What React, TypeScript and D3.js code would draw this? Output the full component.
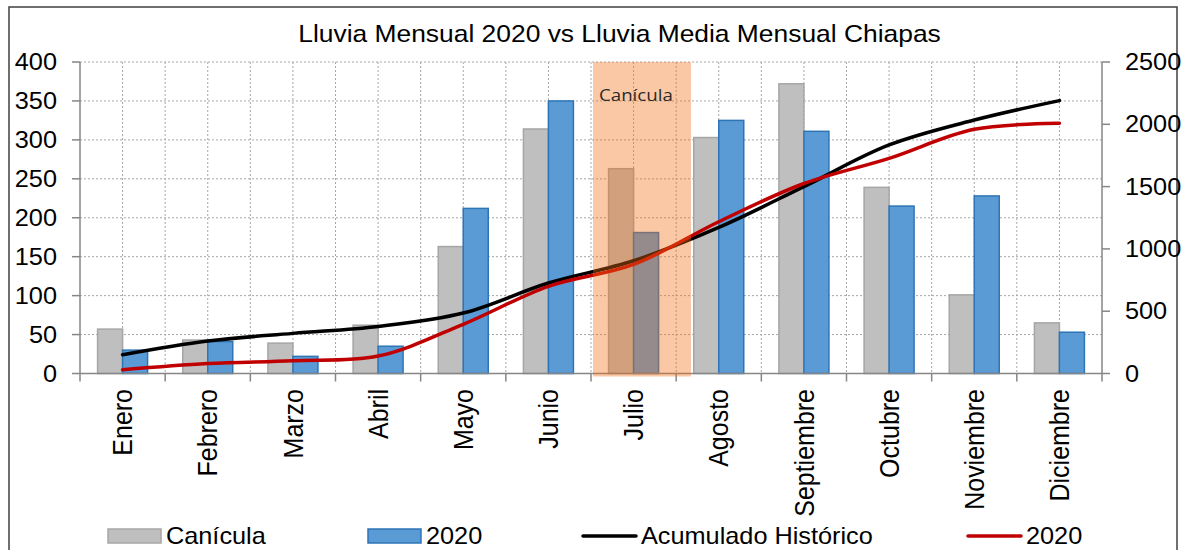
import * as d3 from "d3";

// datos
const meses = ["Enero", "Febrero", "Marzo", "Abril", "Mayo", "Junio", "Julio", "Agosto", "Septiembre", "Octubre", "Noviembre", "Diciembre"];
const canicula = [57, 43, 39, 62, 163, 314, 263, 303, 372, 239, 101, 65];
const lluvia2020 = [30, 41, 22, 35, 212, 350, 181, 325, 311, 215, 228, 53];
const acumHistorico = [150, 260, 322, 378, 485, 726, 905, 1172, 1500, 1834, 2034, 2190];
const acum2020 = [30, 80, 103, 140, 395, 700, 875, 1218, 1525, 1727, 1960, 2008];
const ticksIzq = [0, 50, 100, 150, 200, 250, 300, 350, 400];
const ticksDer = [0, 500, 1000, 1500, 2000, 2500];
const mesCanicula = "Julio";

const FONT = "'Liberation Sans', Arial, sans-serif";
const SX = 1.1; // el original está estirado en horizontal

const App = () => {
  const left = 80, right = 1102, top = 62, bottom = 373.5;

  const x = d3.scaleBand().domain(meses).range([left, right]);
  const bw = x.bandwidth();
  const xs = d3.scaleBand().domain(["hist", "2020"]).range([0, bw]).paddingOuter(0.7035);
  const yL = d3.scaleLinear().domain([0, 400]).range([bottom, top]);
  const yR = d3.scaleLinear().domain([0, 2500]).range([bottom, top]);
  const cx = (m: string) => (x(m) as number) + bw / 2;

  const line = d3.line<number>()
    .x((_, i) => cx(meses[i]))
    .y(d => yR(d))
    .curve(d3.curveCatmullRom.alpha(0.5));

  // gridlines verticales cada media categoría
  const vGrid = d3.range(1, meses.length * 2).map(i => left + (bw / 2) * i);

  const cStart = x(mesCanicula) as number;

  const legend = [
    { x: 108, label: "Canícula", type: "bar", fill: "#BFBFBF", stroke: "#A6A6A6" },
    { x: 368, label: "2020", type: "bar", fill: "#5B9BD5", stroke: "#2E75B6" },
    { x: 583, label: "Acumulado Histórico", type: "line", stroke: "#000000" },
    { x: 968, label: "2020", type: "line", stroke: "#C00000" },
  ];

  return (
    <svg width={1185} height={550} style={{ position: "absolute", left: 0, top: 0, background: "#fff" }}>
      <rect x={9} y={7} width={1168} height={620} fill="#fff" stroke="#404040" strokeWidth={1.5} />

      <text transform={`translate(619.5,41.5) scale(${SX},1)`} textAnchor="middle" fontFamily={FONT} fontSize={24} fill="#000">
        Lluvia Mensual 2020 vs Lluvia Media Mensual Chiapas
      </text>

      {/* grid */}
      <g stroke="#A6A6A6" strokeWidth={1} strokeDasharray="2,2">
        {ticksIzq.slice(1).map(t => (
          <line key={"h" + t} x1={left} x2={right} y1={yL(t)} y2={yL(t)} />
        ))}
        {vGrid.map((gx, i) => (
          <line key={"v" + i} x1={gx} x2={gx} y1={top} y2={bottom} />
        ))}
      </g>

      {/* barras */}
      {meses.map((m, i) => (
        <g key={m}>
          <rect x={(x(m) as number) + (xs("hist") as number)} y={yL(canicula[i])} width={xs.bandwidth()}
            height={bottom - yL(canicula[i])} fill="#BFBFBF" stroke="#A6A6A6" strokeWidth={1.5} />
          <rect x={(x(m) as number) + (xs("2020") as number)} y={yL(lluvia2020[i])} width={xs.bandwidth()}
            height={bottom - yL(lluvia2020[i])} fill="#5B9BD5" stroke="#2E75B6" strokeWidth={1.5} />
        </g>
      ))}

      {/* ejes */}
      <g stroke="#868686" strokeWidth={1.5}>
        <line x1={left} x2={left} y1={top} y2={bottom} />
        <line x1={right} x2={right} y1={top} y2={bottom} />
        <line x1={left} x2={right} y1={bottom} y2={bottom} />
        {ticksIzq.map(t => <line key={"tl" + t} x1={left - 8} x2={left} y1={yL(t)} y2={yL(t)} />)}
        {ticksDer.map(t => <line key={"tr" + t} x1={right} x2={right + 8} y1={yR(t)} y2={yR(t)} />)}
        {d3.range(meses.length + 1).map(i => (
          <line key={"tb" + i} x1={left + bw * i} x2={left + bw * i} y1={bottom} y2={bottom + 8} />
        ))}
      </g>

      {/* líneas acumuladas */}
      <path d={line(acumHistorico) || ""} fill="none" stroke="#000" strokeWidth={3.5} strokeLinecap="round" />
      <path d={line(acum2020) || ""} fill="none" stroke="#C00000" strokeWidth={3.5} strokeLinecap="round" />

      {/* zona de canícula */}
      <rect x={cStart + 2} y={top} width={98} height={bottom - top + 3} fill="rgb(244,110,20)" opacity={0.38} />
      <text transform={`translate(${cStart + 8},101) scale(${SX},1)`} fontFamily="'Open Sans', sans-serif" fontSize={17} fill="#2a2a2a">
        Canícula
      </text>

      {/* etiquetas */}
      <g fontFamily={FONT} fontSize={23} fill="#000">
        {ticksIzq.map(t => (
          <text key={"ll" + t} transform={`translate(57,${yL(t)}) scale(${SX},1)`} textAnchor="end" dy="0.35em">{t}</text>
        ))}
        {ticksDer.map(t => (
          <text key={"lr" + t} transform={`translate(1125,${yR(t)}) scale(${SX},1)`} dy="0.35em">{t}</text>
        ))}
      </g>
      <g fontFamily={FONT} fontSize={25} fill="#000">
        {meses.map(m => (
          <text key={"m" + m} transform={`translate(${cx(m)},389) scale(${SX},1) rotate(-90)`} textAnchor="end" dy="0.35em">{m}</text>
        ))}
      </g>

      {/* leyenda */}
      <g fontFamily={FONT} fontSize={23} fill="#000">
        {legend.map((l, i) => (
          <g key={"lg" + i}>
            {l.type === "bar"
              ? <rect x={l.x} y={529} width={53} height={14} fill={l.fill} stroke={l.stroke} strokeWidth={1.5} />
              : <line x1={l.x} x2={l.x + 53} y1={536} y2={536} stroke={l.stroke} strokeWidth={3.5} strokeLinecap="round" />}
            <text transform={`translate(${l.x + 58},544) scale(${SX},1)`}>{l.label}</text>
          </g>
        ))}
      </g>
    </svg>
  );
};

export default App;
